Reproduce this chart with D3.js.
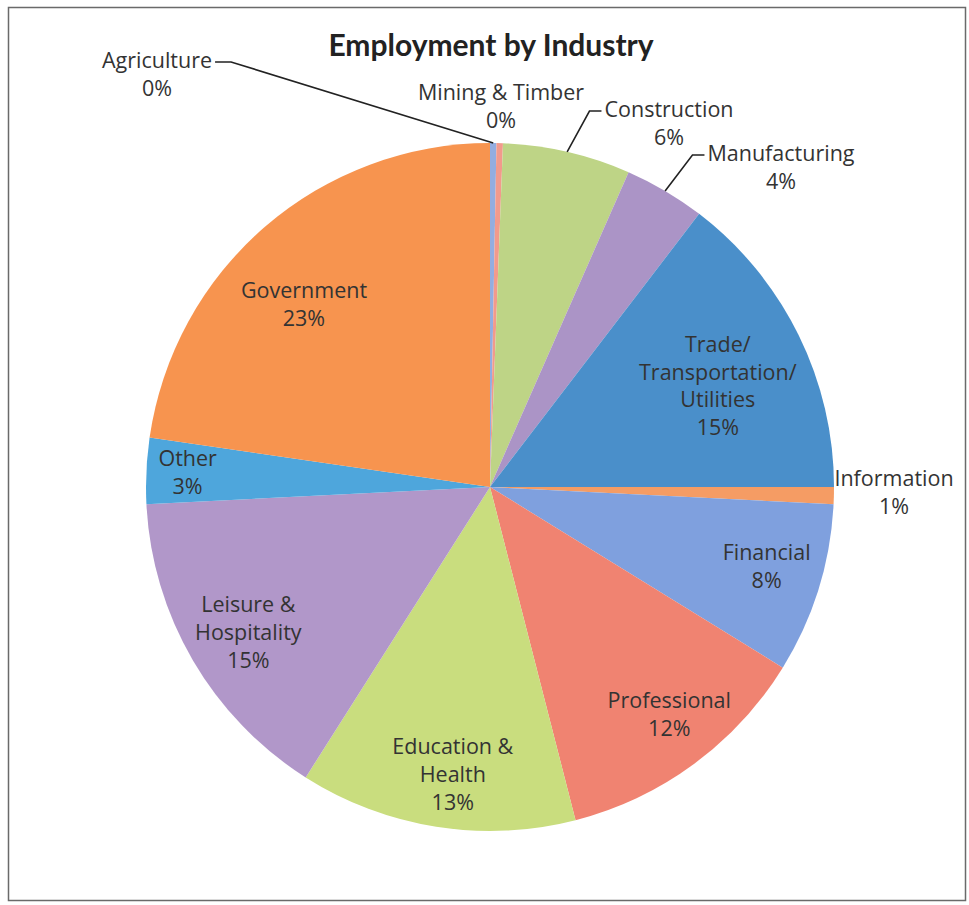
<!DOCTYPE html>
<html>
<head>
<meta charset="utf-8">
<script src="https://cdn.jsdelivr.net/npm/d3@7"></script>
<style>
  body { margin: 0; background: #fff; }
  svg { display: block; }
</style>
</head>
<body>
<script>
// Categories in clockwise order from 12 o'clock
const categories = [
  "Agriculture", "Mining & Timber", "Construction", "Manufacturing",
  "Trade/Transportation/Utilities", "Information", "Financial", "Professional",
  "Education & Health", "Leisure & Hospitality", "Other", "Government"
];

// Share of employment, percent
const shares = [0.3, 0.3, 6.0, 3.8, 14.6, 0.8, 8.0, 12.2, 13.0, 15.2, 3.1, 22.7];

// How each category name is broken over lines
const labelLines = [
  ["Agriculture"], ["Mining & Timber"], ["Construction"], ["Manufacturing"],
  ["Trade/", "Transportation/", "Utilities"], ["Information"], ["Financial"], ["Professional"],
  ["Education &", "Health"], ["Leisure &", "Hospitality"], ["Other"], ["Government"]
];

const colors = [
  "#93ade0", "#f29a8c", "#bed486", "#ab94c6",
  "#4a8fca", "#f59c64", "#7fa0de", "#f08371",
  "#c9dd7e", "#b197c9", "#4ea6dc", "#f7944f"
];

const width = 969;
const height = 905;
const cx = 490, cy = 487, radius = 344;
const lineH = 28;

// Label placement: inside labels use a fraction of the radius along the slice middle
// (plus a small nudge), outside labels sit at an offset from the pie centre
const layout = {
  "Agriculture":     { dx: -333, dy: -413, leader: "right" },
  "Mining & Timber": { dx: 11,   dy: -381 },
  "Construction":    { dx: 179,  dy: -364, leader: "left" },
  "Manufacturing":   { dx: 291,  dy: -320, leader: "left" },
  "Information":     { dx: 404,  dy: 5 },
  "Trade/Transportation/Utilities": { k: 0.69, nx: 15, ny: 4, lh: 27.5 },
  "Financial":       { k: 0.83, nx: 4, ny: -5 },
  "Professional":    { k: 0.84, nx: 8, ny: -5 },
  "Education & Health": { k: 0.84, nx: 8, ny: 2 },
  "Leisure & Hospitality": { k: 0.82, nx: 2, ny: 3 },
  "Other":           { k: 0.88, nx: 0, ny: 0 },
  "Government":      { k: 0.76, nx: -15, ny: 15 }
};

const data = categories.map((c, i) => ({ name: c, value: shares[i], lines: labelLines[i], color: colors[i] }));
const total = d3.sum(shares);

const svg = d3.select("body")
  .append("svg")
  .attr("width", width)
  .attr("height", height);

// Frame
svg.append("rect")
  .attr("x", 8.5).attr("y", 7.5)
  .attr("width", 957).attr("height", 893)
  .attr("fill", "#fff")
  .attr("stroke", "#6a6a6a")
  .attr("stroke-width", 1.5);

// Title
svg.append("text")
  .attr("x", cx + 1)
  .attr("y", 56)
  .attr("text-anchor", "middle")
  .style("font-family", "Lato, sans-serif")
  .style("font-size", "30px")
  .style("font-weight", "bold")
  .attr("fill", "#222")
  .text("Employment by Industry");

const pie = d3.pie()
  .sort(null)
  .value(d => d.value);

const arcs = pie(data);

const arc = d3.arc()
  .innerRadius(0)
  .outerRadius(radius);

const g = svg.append("g")
  .attr("transform", `translate(${cx},${cy})`);

g.selectAll("path.slice")
  .data(arcs)
  .enter()
  .append("path")
  .attr("class", "slice")
  .attr("d", arc)
  .attr("fill", d => d.data.color);

// Labels
const pct = d => Math.round(d.data.value / total * 100) + "%";

arcs.forEach(d => {
  const lay = layout[d.data.name];
  const lines = d.data.lines.concat([pct(d)]);
  const lh = lay.lh || lineH;
  let px, py;
  if (lay.k !== undefined) {
    const r = radius * lay.k;
    [px, py] = d3.arc().innerRadius(r).outerRadius(r).centroid(d);
    px += lay.nx; py += lay.ny;
  } else {
    px = lay.dx; py = lay.dy;
  }
  const y0 = py - (lines.length - 1) * lh / 2;

  const t = g.append("text")
    .attr("text-anchor", "middle")
    .style("font-family", "'Open Sans', sans-serif")
    .style("font-size", "21.5px")
    .attr("fill", "#333");

  t.selectAll("tspan")
    .data(lines)
    .enter()
    .append("tspan")
    .attr("x", px)
    .attr("y", (l, i) => y0 + i * lh)
    .attr("dy", "0.35em")
    .text(l => l);

  if (lay.leader) {
    const bb = t.select("tspan").node().getBBox();
    const ly = y0 + 2;
    const sx = lay.leader === "right" ? bb.x + bb.width + 3 : bb.x - 3;
    const kx = lay.leader === "right" ? sx + 16 : sx - 12;
    const end = d3.arc().innerRadius(radius).outerRadius(radius).centroid(d);
    g.append("path")
      .attr("d", d3.line()([[sx, ly], [kx, ly], end]))
      .attr("fill", "none")
      .attr("stroke", "#222")
      .attr("stroke-width", 1.6);
  }
});
</script>
</body>
</html>
